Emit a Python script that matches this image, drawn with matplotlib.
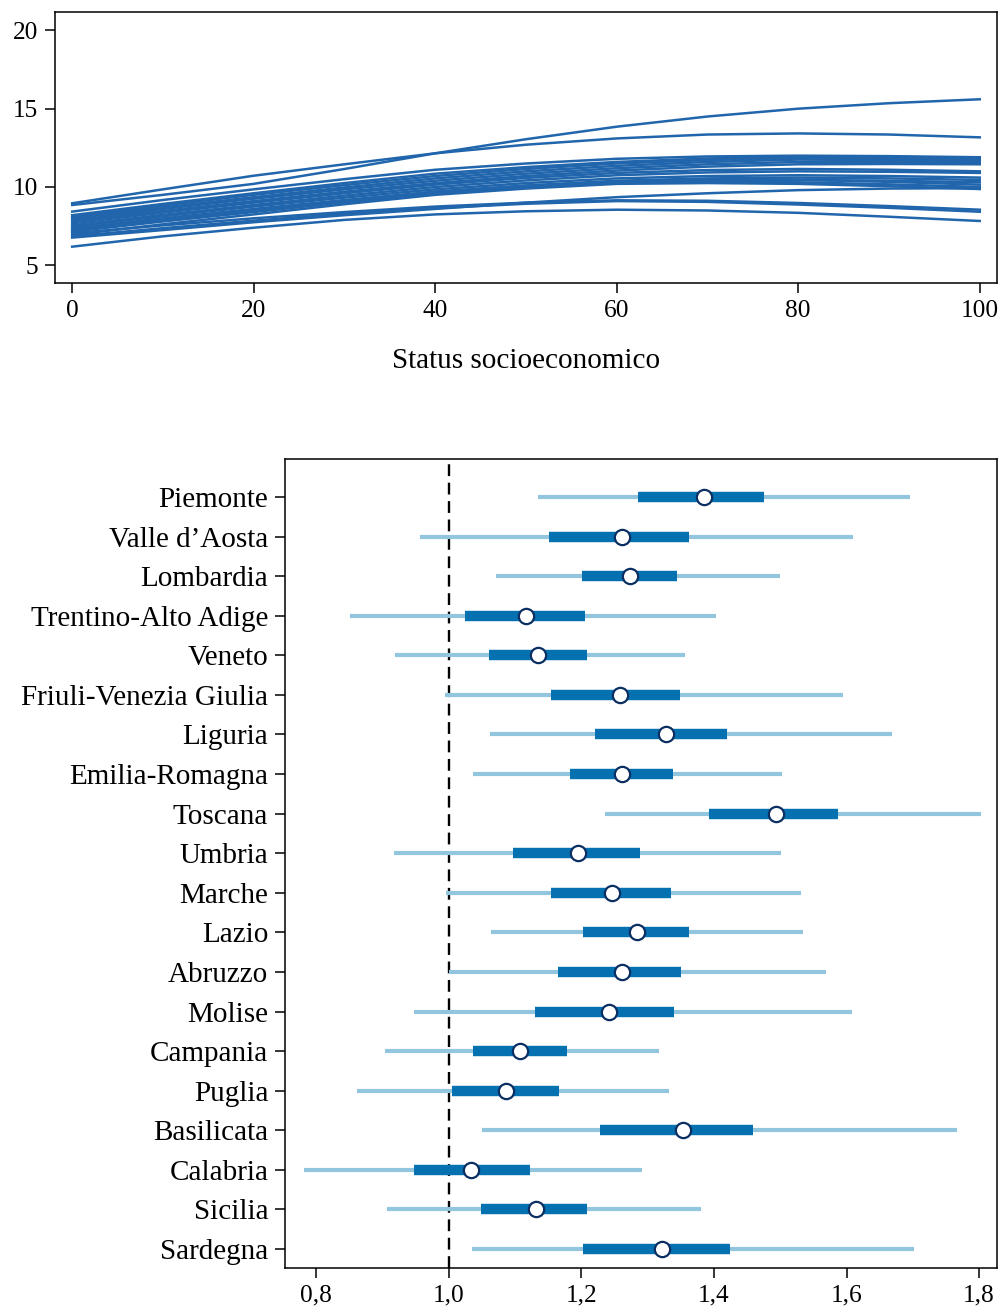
import numpy as np
import matplotlib
matplotlib.use("Agg")
import matplotlib.pyplot as plt

plt.rcParams['font.family'] = ['Liberation Serif', 'DejaVu Serif']

# --- top panel: predicted curves by region vs socioeconomic status ---
ses = [0, 10, 20, 30, 40, 50, 60, 70, 80, 90, 100]
curves = [
    [8.85, 9.50, 10.20, 11.15, 12.15, 13.05, 13.85, 14.50, 15.00, 15.35, 15.60],
    [8.96, 9.85, 10.72, 11.45, 12.15, 12.70, 13.10, 13.35, 13.42, 13.35, 13.17],
    [8.43, 9.17, 9.85, 10.50, 11.10, 11.50, 11.80, 11.95, 12.00, 11.97, 11.90],
    [8.20, 8.92, 9.60, 10.25, 10.85, 11.27, 11.60, 11.82, 11.95, 11.92, 11.85],
    [8.10, 8.82, 9.50, 10.12, 10.70, 11.15, 11.50, 11.72, 11.85, 11.82, 11.75],
    [8.00, 8.70, 9.35, 9.97, 10.55, 11.00, 11.35, 11.60, 11.75, 11.72, 11.65],
    [7.90, 8.60, 9.25, 9.85, 10.40, 10.85, 11.20, 11.45, 11.60, 11.60, 11.55],
    [7.80, 8.47, 9.10, 9.70, 10.25, 10.70, 11.05, 11.30, 11.45, 11.47, 11.45],
    [7.68, 8.36, 9.00, 9.60, 10.15, 10.58, 10.90, 11.08, 11.15, 11.10, 11.00],
    [7.55, 8.22, 8.85, 9.45, 10.00, 10.42, 10.75, 10.93, 11.00, 10.97, 10.90],
    [7.47, 8.13, 8.75, 9.32, 9.85, 10.25, 10.55, 10.70, 10.75, 10.70, 10.60],
    [7.35, 8.00, 8.60, 9.17, 9.70, 10.10, 10.40, 10.55, 10.60, 10.55, 10.45],
    [7.30, 7.92, 8.50, 9.07, 9.60, 9.97, 10.25, 10.40, 10.45, 10.40, 10.30],
    [7.20, 7.87, 8.50, 9.12, 9.70, 10.07, 10.35, 10.45, 10.45, 10.33, 10.15],
    [7.15, 7.80, 8.40, 9.02, 9.60, 9.97, 10.25, 10.33, 10.30, 10.17, 10.00],
    [6.94, 7.62, 8.25, 8.90, 9.50, 9.90, 10.20, 10.25, 10.20, 10.05, 9.87],
    [6.77, 7.25, 7.75, 8.20, 8.60, 9.00, 9.35, 9.60, 9.80, 9.90, 9.93],
    [7.05, 7.55, 8.00, 8.40, 8.75, 9.00, 9.15, 9.12, 8.98, 8.78, 8.55],
    [6.85, 7.37, 7.85, 8.30, 8.65, 8.93, 9.10, 9.05, 8.88, 8.67, 8.42],
    [6.19, 6.85, 7.40, 7.90, 8.25, 8.45, 8.55, 8.50, 8.35, 8.10, 7.83],
]

# --- bottom panel: odds ratios by region ---
regions = ["Piemonte", "Valle d\u2019Aosta", "Lombardia", "Trentino-Alto Adige",
           "Veneto", "Friuli-Venezia Giulia", "Liguria", "Emilia-Romagna",
           "Toscana", "Umbria", "Marche", "Lazio", "Abruzzo", "Molise",
           "Campania", "Puglia", "Basilicata", "Calabria", "Sicilia", "Sardegna"]
point = [1.385, 1.261, 1.274, 1.116, 1.134, 1.259, 1.328, 1.262, 1.494, 1.195,
         1.247, 1.284, 1.261, 1.242, 1.107, 1.087, 1.354, 1.034, 1.131, 1.322]
inner_lo = [1.286, 1.151, 1.201, 1.024, 1.060, 1.155, 1.221, 1.183, 1.393, 1.097,
            1.155, 1.203, 1.165, 1.130, 1.036, 1.005, 1.228, 0.947, 1.048, 1.203]
inner_hi = [1.475, 1.362, 1.344, 1.206, 1.209, 1.349, 1.420, 1.339, 1.587, 1.288,
            1.335, 1.362, 1.350, 1.340, 1.178, 1.166, 1.459, 1.122, 1.208, 1.424]
outer_lo = [1.135, 0.956, 1.072, 0.851, 0.919, 0.995, 1.062, 1.037, 1.236, 0.918,
            0.996, 1.064, 1.001, 0.948, 0.904, 0.862, 1.050, 0.781, 0.907, 1.035]
outer_hi = [1.696, 1.610, 1.499, 1.403, 1.357, 1.595, 1.668, 1.503, 1.803, 1.501,
            1.532, 1.534, 1.569, 1.608, 1.317, 1.333, 1.766, 1.291, 1.380, 1.702]

line_blue = "#2166ac"
light_blue = "#92c5de"
dark_blue = "#0571b0"
navy = "#0b2f63"

fig = plt.figure(figsize=(10.01, 13.09), dpi=100)

ax1 = fig.add_axes([0.0549, 0.7838, 0.9411, 0.2070])
for c in curves:
    ax1.plot(ses, c, color=line_blue, lw=1.8, solid_joinstyle='round')
ax1.set_xlim(-1.9, 101.9)
ax1.set_ylim(3.87, 21.17)
ax1.set_xticks([0, 20, 40, 60, 80, 100])
ax1.set_yticks([5, 10, 15, 20])
ax1.set_xlabel("Status socioeconomico", fontsize=21, labelpad=19)

ax2 = fig.add_axes([0.2847, 0.0313, 0.7113, 0.6181])
y = np.arange(len(regions))
ax2.hlines(y, outer_lo, outer_hi, color=light_blue, lw=3.0)
ax2.hlines(y, inner_lo, inner_hi, color=dark_blue, lw=7.5)
ax2.plot(point, y, 'o', ms=11, mfc='white', mec=navy, mew=1.6, zorder=5)
ax2.axvline(1.0, color='black', lw=1.7, ls=(0, (5, 2.8)), zorder=1)
ax2.set_yticks(y)
ax2.set_yticklabels(regions)
ax2.set_ylim(19.48, -0.96)
ax2.set_xlim(0.753, 1.827)
ax2.set_xticks([0.8, 1.0, 1.2, 1.4, 1.6, 1.8])
ax2.set_xticklabels(["0,8", "1,0", "1,2", "1,4", "1,6", "1,8"])

for ax in (ax1, ax2):
    for s in ax.spines.values():
        s.set_linewidth(1.1)
    ax.tick_params(direction='out', length=7, width=1.1, labelsize=18.3, pad=5)
ax2.tick_params(axis='y', labelsize=21)

fig.savefig("out.png", dpi=100)
